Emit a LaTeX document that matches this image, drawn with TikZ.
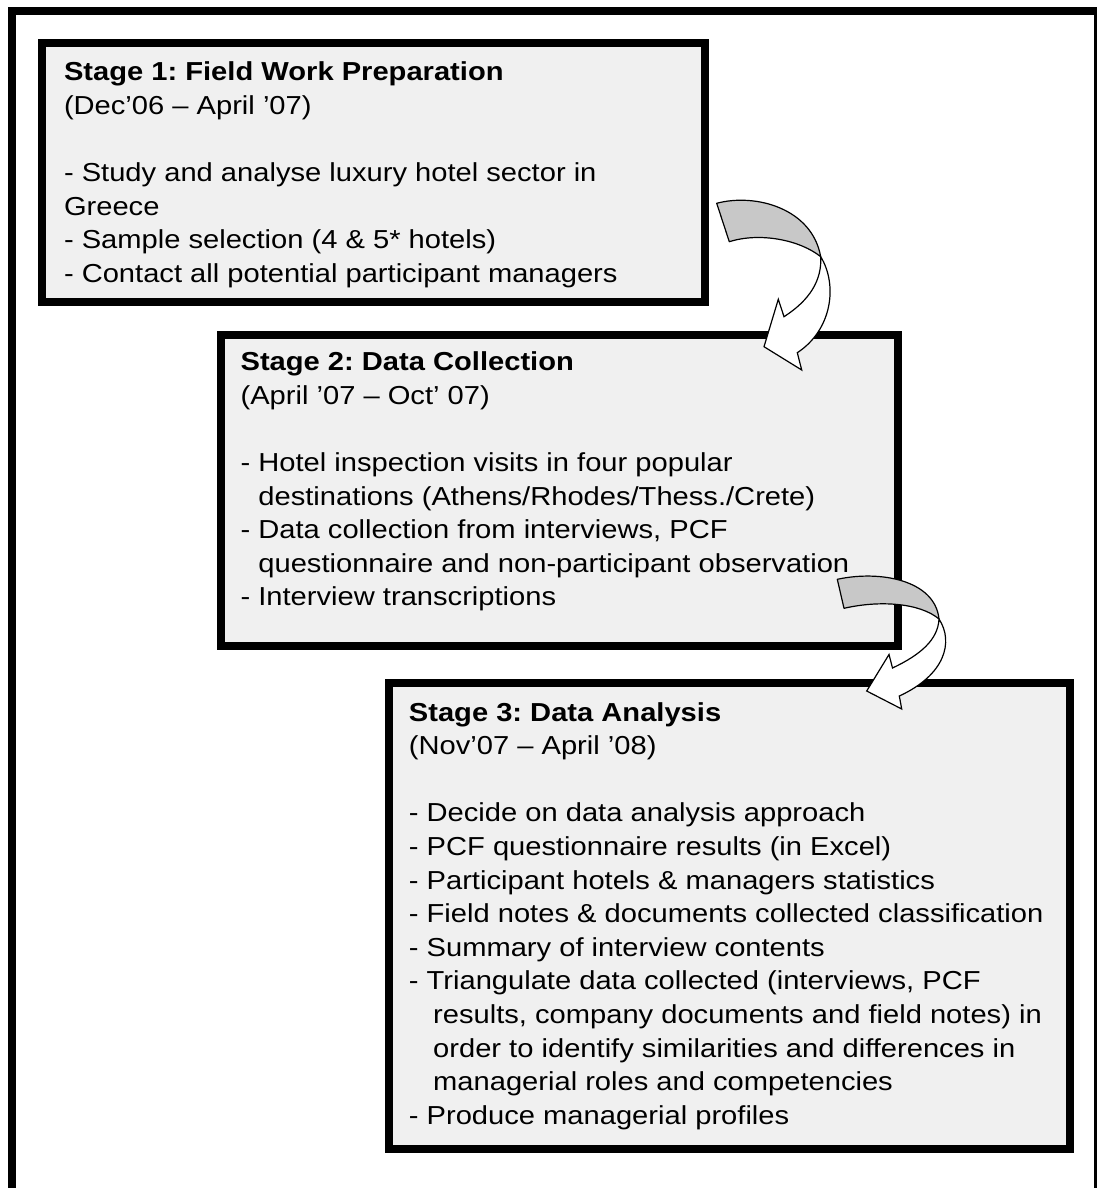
\documentclass[tikz,border=0pt]{standalone}
\usepackage{fontspec}
\setmainfont{Liberation Sans}[FakeStretch=1.12]
\definecolor{boxgray}{HTML}{F0F0F0}
\definecolor{arrowgray}{HTML}{C8C8C8}
\frenchspacing
\begin{document}
\begin{tikzpicture}[x=1pt,y=-1pt,
  stagebox/.style={draw=black, line width=8pt, fill=boxgray, rectangle, inner sep=0pt},
  txt/.style={anchor=base west, inner sep=0pt, font=\fontsize{26}{33.6}\selectfont},
  headtxt/.style={txt, font=\fontsize{26}{33.6}\selectfont\bfseries},
  backface/.style={draw=black, line width=1.2pt, fill=arrowgray, line join=round},
  frontface/.style={draw=black, line width=1.2pt, fill=white, line join=miter}]
\useasboundingbox (0,0) rectangle (1096,1188);

% outer frame
\draw[line width=8pt] (12,11) rectangle (1098,1200);

% stage boxes
\node[stagebox, minimum width=663pt, minimum height=259pt] (box1) at (373.5,172.5) {};
\node[stagebox, minimum width=677pt, minimum height=311pt] (box2) at (559.5,490.5) {};
\node[stagebox, minimum width=681pt, minimum height=466pt] (box3) at (729.5,916) {};

% stage 1 text
\node[headtxt] (s1title) at (63.8,80.7) {Stage 1: Field Work Preparation};
\node[txt] (s1date) at (63.8,114.3) {(Dec’06 – April ’07)};
\foreach \t [count=\i from 3] in {%
  {- Study and analyse luxury hotel sector in},
  {Greece},
  {- Sample selection (4 \& 5* hotels)},
  {- Contact all potential participant managers}}
  \node[txt] (s1l\i) at (63.8,{80.7+33.6*\i}) {\t};

% stage 2 text
\node[headtxt] (s2title) at (240.4,370.7) {Stage 2: Data Collection};
\node[txt] (s2date) at (240.4,404.3) {(April ’07 – Oct’ 07)};
\node[txt] (s2l3) at (240.4,471.5) {- Hotel inspection visits in four popular};
\node[txt] (s2l4) at (258.2,505.1) {destinations (Athens/Rhodes/Thess./Crete)};
\node[txt] (s2l5) at (240.4,538.7) {- Data collection from interviews, PCF};
\node[txt] (s2l6) at (258.2,572.3) {questionnaire and non-participant observation};
\node[txt] (s2l7) at (240.4,605.9) {- Interview transcriptions};

% stage 3 text
\node[headtxt] (s3title) at (408.7,721) {Stage 3: Data Analysis};
\node[txt] (s3date) at (408.7,754.6) {(Nov’07 – April ’08)};
\foreach \t [count=\i from 3] in {%
  {- Decide on data analysis approach},
  {- PCF questionnaire results (in Excel)},
  {- Participant hotels \& managers statistics},
  {- Field notes \& documents collected classification},
  {- Summary of interview contents},
  {- Triangulate data collected (interviews, PCF}}
  \node[txt] (s3l\i) at (408.7,{721+33.6*\i}) {\t};
\foreach \t [count=\i from 9] in {%
  {results, company documents and field notes) in},
  {order to identify similarities and differences in},
  {managerial roles and competencies}}
  \node[txt] (s3l\i) at (433,{721+33.6*\i}) {\t};
\node[txt] (s3l12) at (408.7,{721+33.6*12}) {- Produce managerial profiles};

% curved arrow from stage 1 to stage 2
\coordinate (a1tt) at (716.7,203.3);
\coordinate (a1tb) at (729.3,241.7);
\coordinate (a1tw) at (820.7,256.7);
\coordinate (a1oj) at (797.3,352.7);
\coordinate (a1b2) at (801.7,370);
\coordinate (a1tp) at (764,346.7);
\coordinate (a1b1) at (778.3,299.3);
\coordinate (a1ij) at (784,316.7);
\filldraw[backface] (a1tt) .. controls (755,193) and (812,208) .. (a1tw)
  .. controls (800,240) and (760,232) .. (a1tb) -- cycle;
\filldraw[frontface] (a1tw) .. controls (838,285) and (832,330) .. (a1oj)
  -- (a1b2) -- (a1tp) -- (a1b1) -- (a1ij)
  .. controls (810,300) and (822,280) .. (a1tw) -- cycle;

% curved arrow from stage 2 to stage 3
\coordinate (a2tt) at (837.3,579.3);
\coordinate (a2tb) at (844,608.3);
\coordinate (a2tw) at (939,619);
\coordinate (a2oj) at (899.3,696);
\coordinate (a2b2) at (901.7,709);
\coordinate (a2tp) at (866.7,691);
\coordinate (a2b1) at (889,654.5);
\coordinate (a2ij) at (892.5,668);
\filldraw[backface] (a2tt) .. controls (880,570) and (935,580) .. (a2tw)
  .. controls (920,603) and (880,600) .. (a2tb) -- cycle;
\filldraw[frontface] (a2tw) .. controls (954,642) and (945,675) .. (a2oj)
  -- (a2b2) -- (a2tp) -- (a2b1) -- (a2ij)
  .. controls (920,655) and (938,640) .. (a2tw) -- cycle;
\end{tikzpicture}
\end{document}
